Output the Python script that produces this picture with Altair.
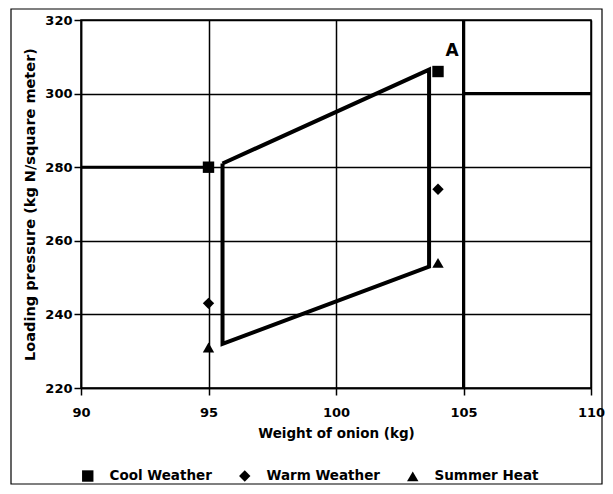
import altair as alt
import pandas as pd

# Data points
series = ["Cool Weather", "Cool Weather", "Warm Weather", "Warm Weather", "Summer Heat", "Summer Heat"]
weights = [95.0, 104.0, 95.0, 104.0, 95.0, 104.0]
pressures = [280.0, 306.0, 243.0, 274.0, 231.0, 254.0]

# Operating envelope (parallelogram), closed polygon
env_x = [95.55, 103.65, 103.65, 95.55, 95.55]
env_y = [281.0, 306.5, 253.0, 232.0, 281.0]
env_order = [0, 1, 2, 3, 4]

# Reference lines
vline_x = [105.0]
hline_y = [280.0, 300.0]
hline_x1 = [90.0, 105.0]
hline_x2 = [95.0, 110.0]

x_ticks = [90, 95, 100, 105, 110]
y_ticks = [220, 240, 260, 280, 300, 320]

FONT = "DejaVu Sans"

pts = pd.DataFrame({"series": series, "weight": weights, "pressure": pressures})
env = pd.DataFrame({"x": env_x, "y": env_y, "o": env_order})
vdf = pd.DataFrame({"x": vline_x})
hdf = pd.DataFrame({"y": hline_y, "x1": hline_x1, "x2": hline_x2})
lab = pd.DataFrame({"x": [104.55], "y": [311.5], "t": ["A"]})

xs = alt.Scale(domain=[90, 110], nice=False)
ys = alt.Scale(domain=[220, 320], nice=False)

xax = alt.Axis(values=x_ticks, title="Weight of onion (kg)", grid=True,
               labelFlush=False, labelPadding=11, titlePadding=7)
yax = alt.Axis(values=y_ticks, title="Loading pressure (kg N/square meter)", grid=True,
               labelFlush=False, labelPadding=2, titlePadding=7, titleFontSize=14.5)

base_pts = alt.Chart(pts).mark_point(filled=True, size=130, color="black", opacity=1).encode(
    x=alt.X("weight:Q", scale=xs, axis=xax),
    y=alt.Y("pressure:Q", scale=ys, axis=yax),
    shape=alt.Shape(
        "series:N",
        scale=alt.Scale(domain=["Cool Weather", "Warm Weather", "Summer Heat"],
                        range=["square", "diamond", "triangle-up"]),
        legend=alt.Legend(title=None, orient="bottom", direction="horizontal",
                          symbolFillColor="black", symbolStrokeColor="black",
                          symbolSize=130, columnPadding=24, labelOffset=15,
                          labelFontSize=13.5, labelFontWeight="bold", labelFont=FONT,
                          labelColor="black", offset=29),
    ),
)

envelope = alt.Chart(env).mark_line(color="black", strokeWidth=4, strokeJoin="miter").encode(
    x=alt.X("x:Q", scale=xs),
    y=alt.Y("y:Q", scale=ys),
    order="o:Q",
)

vrule = alt.Chart(vdf).mark_rule(color="black", strokeWidth=3).encode(
    x=alt.X("x:Q", scale=xs),
)

hrule = alt.Chart(hdf).mark_rule(color="black", strokeWidth=3).encode(
    x=alt.X("x1:Q", scale=xs),
    x2="x2:Q",
    y=alt.Y("y:Q", scale=ys),
)

text = alt.Chart(lab).mark_text(fontSize=17, fontWeight="bold", color="black",
                                font=FONT).encode(
    x=alt.X("x:Q", scale=xs),
    y=alt.Y("y:Q", scale=ys),
    text="t:N",
)

frame = alt.Chart(pd.DataFrame({"k": [0]})).mark_rect(
    filled=False, stroke="black", strokeWidth=1.2
).encode(
    x=alt.value(-70), x2=alt.value(521), y=alt.value(-11), y2=alt.value(464)
)

chart = alt.layer(frame, vrule, hrule, envelope, base_pts, text).properties(
    width=510, height=368,
    autosize=alt.AutoSizeParams(type="none"),
    padding={"left": 73, "top": 12, "right": 14, "bottom": 98},
    background="white",
).configure_view(
    stroke="black", strokeWidth=1.5,
).configure_axis(
    gridColor="black", gridOpacity=1, gridWidth=1.5,
    domainColor="black", domainWidth=1.5,
    tickColor="black", tickWidth=1.5, tickSize=7,
    labelFont=FONT, labelFontSize=13, labelFontWeight="bold", labelColor="black",
    titleFont=FONT, titleFontSize=13.5, titleFontWeight="bold", titleColor="black",
)

chart.save("out.html", embed_options={"renderer": "svg", "actions": False})
